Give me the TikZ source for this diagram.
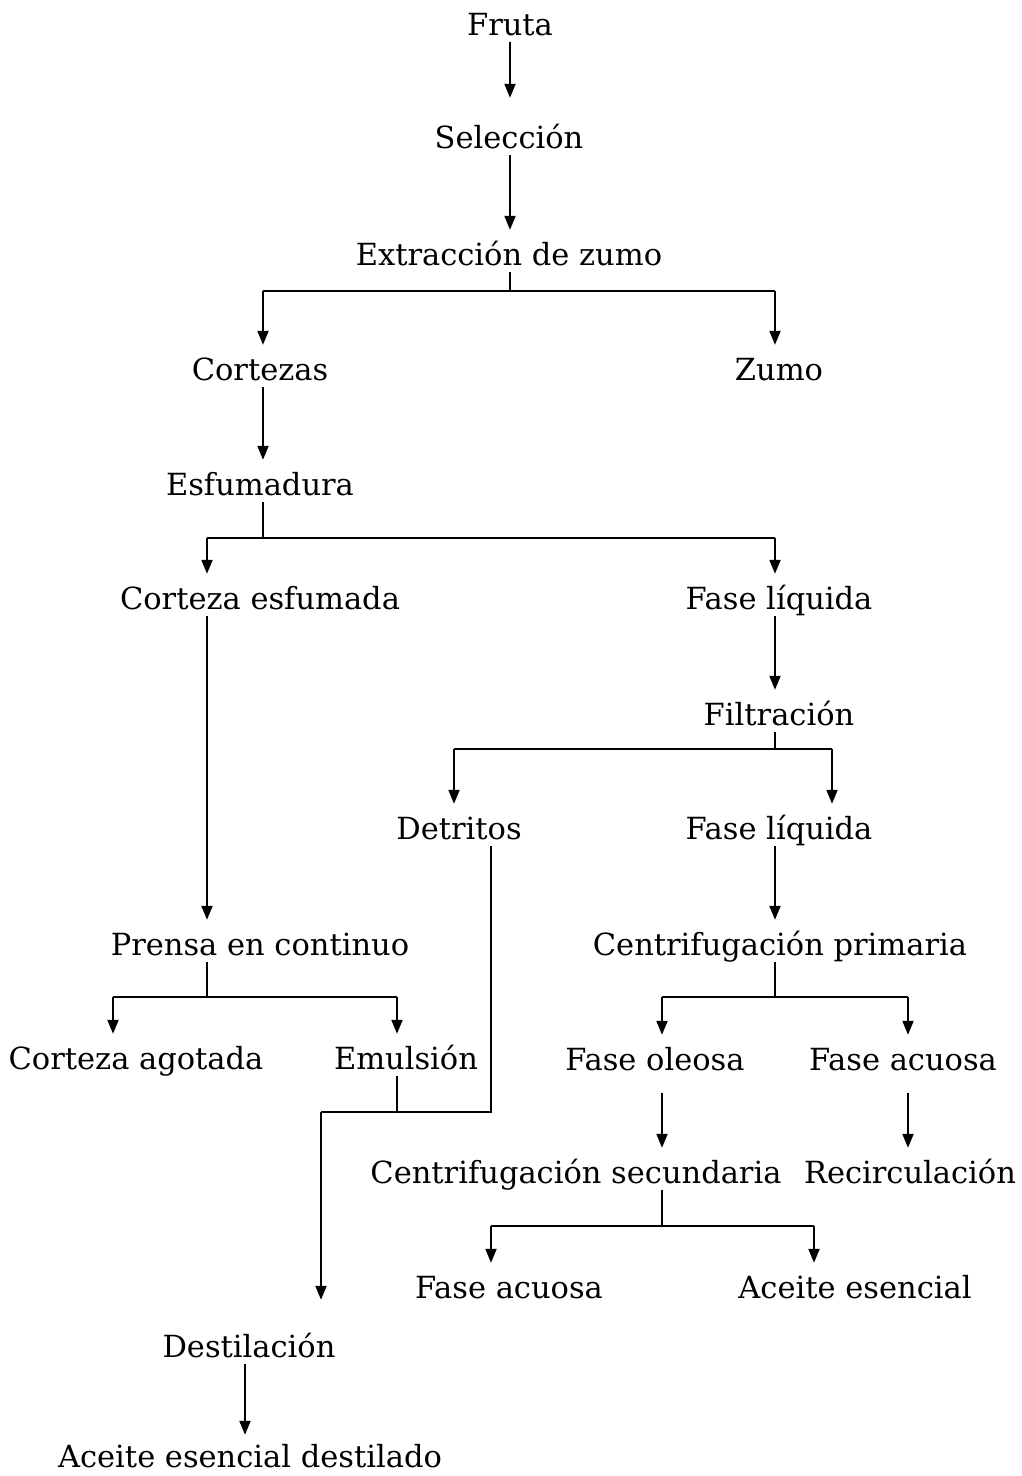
\documentclass[tikz,border=0pt]{standalone}
\usepackage{fontspec}
\setmainfont{DejaVu Serif}
\usetikzlibrary{arrows.meta}
\begin{document}
\begin{tikzpicture}[x=1pt,y=-1pt,
  lbl/.style={anchor=base, font=\fontsize{30.5}{33}\selectfont, text height=28pt, text depth=0pt, inner ysep=7pt, inner xsep=0pt},
  arr/.style={-{Triangle[length=14pt,width=11pt]}, line width=2pt},
  ln/.style={line width=1.2pt}]
\useasboundingbox (0,0) rectangle (1022,1476);
% columns
\coordinate (cA) at (510,0);
\coordinate (cB) at (263,0);
\coordinate (cC) at (775,0);
\coordinate (cD) at (207,0);
\coordinate (cE) at (454,0);
\coordinate (cF) at (832,0);
\coordinate (cG) at (491,0);
\coordinate (cH) at (113,0);
\coordinate (cI) at (397,0);
\coordinate (cJ) at (662,0);
\coordinate (cK) at (908,0);
\coordinate (cN) at (814,0);
\coordinate (cO) at (321,0);
\coordinate (cP) at (245,0);
% nodes
\node[lbl] (fruta) at (510,35) {Fruta};
\node[lbl] (sel) at (509,148) {Selección};
\node[lbl] (ext) at (509,265) {Extracción de zumo};
\node[lbl] (cort) at (260,380) {Cortezas};
\node[lbl] (zumo) at (779,380) {Zumo};
\node[lbl] (esf) at (260,495) {Esfumadura};
\node[lbl] (cesf) at (260,609) {Corteza esfumada};
\node[lbl] (fl1) at (779,609) {Fase líquida};
\node[lbl] (filt) at (779,725) {Filtración};
\node[lbl] (detr) at (459,839) {Detritos};
\node[lbl] (fl2) at (779,839) {Fase líquida};
\node[lbl] (prensa) at (260,955) {Prensa en continuo};
\node[lbl] (cprim) at (780,955) {Centrifugación primaria};
\node[lbl] (cago) at (136,1069) {Corteza agotada};
\node[lbl] (emul) at (406,1069) {Emulsión};
\node[lbl] (fole) at (655,1070) {Fase oleosa};
\node[lbl] (facu1) at (903,1070) {Fase acuosa};
\node[lbl] (csec) at (576,1183) {Centrifugación secundaria};
\node[lbl] (recir) at (910,1183) {Recirculación};
\node[lbl] (facu2) at (509,1298) {Fase acuosa};
\node[lbl] (aceite) at (855,1298) {Aceite esencial};
\node[lbl] (dest) at (249,1357) {Destilación};
\node[lbl] (acdest) at (250,1467) {Aceite esencial destilado};
% junctions
\coordinate (j1) at (510,291);
\coordinate (j2) at (263,538);
\coordinate (j3) at (775,749);
\coordinate (j4) at (207,997);
\coordinate (j5) at (775,997);
\coordinate (j6) at (397,1112);
\coordinate (j7) at (662,1226);
% connectors
\draw[arr] (fruta.south -| cA) -- ([yshift=15pt]sel.north -| cA);
\draw[arr] (sel.south -| cA) -- (ext.north -| cA);
\draw[ln] (ext.south -| cA) -- (j1);
\draw[ln] (j1 -| cB) -- (j1 -| cC);
\draw[arr] (j1 -| cB) -- (cort.north -| cB);
\draw[arr] (j1 -| cC) -- (zumo.north -| cC);
\draw[arr] (cort.south -| cB) -- (esf.north -| cB);
\draw[ln] (esf.south -| cB) -- (j2);
\draw[ln] (j2 -| cD) -- (j2 -| cC);
\draw[arr] (j2 -| cD) -- (cesf.north -| cD);
\draw[arr] (j2 -| cC) -- (fl1.north -| cC);
\draw[arr] (fl1.south -| cC) -- (filt.north -| cC);
\draw[ln] (filt.south -| cC) -- (j3);
\draw[ln] (j3 -| cE) -- (j3 -| cF);
\draw[arr] (j3 -| cE) -- (detr.north -| cE);
\draw[arr] (j3 -| cF) -- (fl2.north -| cF);
\draw[arr] (cesf.south -| cD) -- (prensa.north -| cD);
\draw[arr] (fl2.south -| cC) -- (cprim.north -| cC);
\draw[ln] (prensa.south -| cD) -- (j4);
\draw[ln] (j4 -| cH) -- (j4 -| cI);
\draw[arr] (j4 -| cH) -- (cago.north -| cH);
\draw[arr] (j4 -| cI) -- (emul.north -| cI);
\draw[ln] (cprim.south -| cC) -- (j5);
\draw[ln] (j5 -| cJ) -- (j5 -| cK);
\draw[arr] (j5 -| cJ) -- (fole.north -| cJ);
\draw[arr] (j5 -| cK) -- (facu1.north -| cK);
\draw[arr] ([yshift=-16pt]fole.south -| cJ) -- (csec.north -| cJ);
\draw[arr] ([yshift=-16pt]facu1.south -| cK) -- (recir.north -| cK);
\draw[ln] (emul.south -| cI) -- (j6);
\draw[ln] (detr.south -| cG) -- (j6 -| cG) -- (j6 -| cO);
\draw[arr] (j6 -| cO) -- ([yshift=22pt]dest.north -| cO);
\draw[ln] (csec.south -| cJ) -- (j7);
\draw[ln] (j7 -| cG) -- (j7 -| cN);
\draw[arr] (j7 -| cG) -- (facu2.north -| cG);
\draw[arr] (j7 -| cN) -- (aceite.north -| cN);
\draw[arr] (dest.south -| cP) -- ([yshift=-3pt]acdest.north -| cP);
\end{tikzpicture}
\end{document}
